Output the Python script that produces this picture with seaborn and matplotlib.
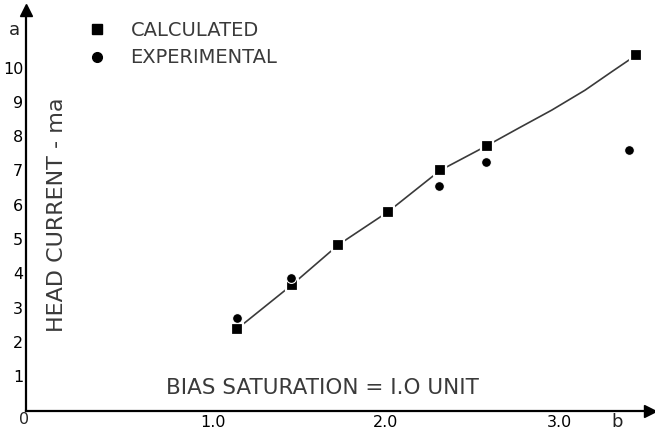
import matplotlib
matplotlib.use("Agg")
import matplotlib.pyplot as plt
import seaborn as sns
import pandas as pd
from matplotlib.lines import Line2D

# ---- data ----
calc_x = [1.137, 1.455, 1.724, 2.013, 2.312, 2.582, 3.445]
calc_y = [2.37, 3.66, 4.83, 5.80, 7.00, 7.72, 10.36]
exp_x = [1.139, 1.449, 2.308, 2.578, 3.405]
exp_y = [2.69, 3.87, 6.56, 7.24, 7.59]
curve_x = [1.137, 1.455, 1.724, 2.013, 2.312, 2.582, 2.765, 2.958, 3.150, 3.305, 3.445]
curve_y = [2.37, 3.66, 4.83, 5.80, 7.00, 7.72, 8.23, 8.76, 9.34, 9.88, 10.36]
x_ticks = [1, 2, 3]
x_tick_labels = ["1.0", "2.0", "3.0"]
y_ticks = [1, 2, 3, 4, 5, 6, 7, 8, 9, 10]
y_tick_labels = [str(v) for v in y_ticks]
legend_labels = ["CALCULATED", "EXPERIMENTAL"]
y_label = "HEAD CURRENT - ma"
note = "BIAS SATURATION = I.O UNIT"

sns.set_style("white")
letter_font = ["DejaVu Sans"]
num_font = ["Liberation Sans Narrow", "DejaVu Sans"]
plt.rcParams["font.family"] = letter_font
text_color = "#3a3a3a"

W, H = 655, 432
fig = plt.figure(figsize=(W / 100, H / 100), dpi=100)
left_px, right_px, bottom_px, top_px = 26, 650, 410.5, 10
ax = fig.add_axes([left_px / W, (H - bottom_px) / H,
                   (right_px - left_px) / W, (bottom_px - top_px) / H])

curve_df = pd.DataFrame({"x": curve_x, "y": curve_y})
calc_df = pd.DataFrame({"x": calc_x, "y": calc_y})
exp_df = pd.DataFrame({"x": exp_x, "y": exp_y})

sns.lineplot(data=curve_df, x="x", y="y", ax=ax, color="#3a3a3a", lw=1.2,
             sort=False, estimator=None, zorder=2)
sns.scatterplot(data=calc_df, x="x", y="y", ax=ax, marker="s", s=70,
                color="black", edgecolor="white", linewidth=1.6, zorder=3)
sns.scatterplot(data=exp_df, x="x", y="y", ax=ax, marker="o", s=50,
                color="black", edgecolor="white", linewidth=0.8, zorder=4)

ax.set_xlim(-0.081, 3.526)
ax.set_ylim(0, 11.68)
ax.set_xlabel("")
ax.set_ylabel("")

for s in ["top", "right"]:
    ax.spines[s].set_visible(False)
for s in ["left", "bottom"]:
    ax.spines[s].set_linewidth(1.6)
    ax.spines[s].set_color("black")

ax.set_xticks(x_ticks)
ax.set_xticklabels(x_tick_labels, family=num_font, fontsize=11.5)
ax.set_yticks(y_ticks)
ax.set_yticklabels(y_tick_labels, family=num_font, fontsize=11.5)
ax.tick_params(axis="y", direction="in", length=11.5, width=1.1, pad=2, colors="black")
ax.tick_params(axis="x", direction="in", length=7, width=1.1, pad=3, colors="black")

# axis arrows
ax.plot(1, 0, marker=">", color="black", ms=8, transform=ax.transAxes, clip_on=False)
ax.plot(0, 1, marker="^", color="black", ms=8, transform=ax.transAxes, clip_on=False)

fig.text(24 / W, 1 - 420 / H, "0", ha="center", va="center",
         family=num_font, fontsize=11.5)
fig.text(14 / W, 1 - 30 / H, "a", ha="center", va="center", fontsize=13, color="#222")
fig.text(617 / W, 1 - 422 / H, "b", ha="center", va="center", fontsize=13, color="#222")

fig.text(57 / W, 1 - 215 / H, y_label, rotation=90, ha="center", va="center",
         fontsize=16, color=text_color)
fig.text(166 / W, 1 - 388 / H, note, ha="left", va="center",
         fontsize=15.5, color=text_color)

handles = [Line2D([], [], marker="s", ls="", color="black", ms=7),
           Line2D([], [], marker="o", ls="", color="black", ms=7)]
fig.legend(handles, legend_labels, loc="upper left",
           bbox_to_anchor=(78 / W, 1 - 11 / H), frameon=False, borderpad=0,
           handlelength=1.0, handletextpad=1.2, labelspacing=0.45,
           prop={"family": letter_font, "size": 14},
           labelcolor=text_color)

fig.savefig("out.png", dpi=100)
